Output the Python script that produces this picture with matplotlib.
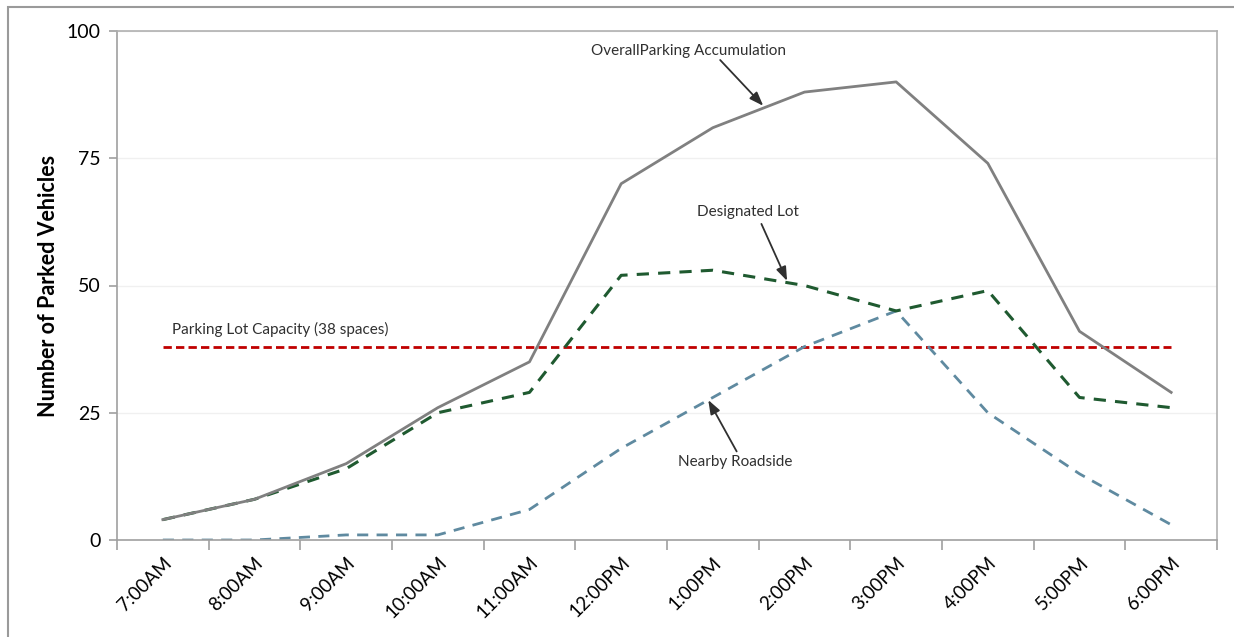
import matplotlib
matplotlib.use("Agg")
import matplotlib.pyplot as plt
import numpy as np
from matplotlib.patches import Rectangle

plt.rcParams['font.family'] = ['Lato', 'DejaVu Sans']

times = ['7:00AM', '8:00AM', '9:00AM', '10:00AM', '11:00AM', '12:00PM',
         '1:00PM', '2:00PM', '3:00PM', '4:00PM', '5:00PM', '6:00PM']
overall = [4, 8, 15, 26, 35, 70, 81, 88, 90, 74, 41, 29]
designated = [4, 8, 14, 25, 29, 52, 53, 50, 45, 49, 28, 26]
roadside = [0, 0, 1, 1, 6, 18, 28, 38, 45, 25, 13, 3]
capacity = 38
y_ticks = [0, 25, 50, 75, 100]

fig = plt.figure(figsize=(12.34, 6.37), dpi=100)
ax = fig.add_axes([117 / 1234, 97 / 637, 1100 / 1234, 509 / 637])

# outer chart frame (cropped at right and bottom)
fig.patches.append(Rectangle((8 / 1234, -0.1), 1.2, 0.1 + 630 / 637,
                             transform=fig.transFigure, fill=False,
                             edgecolor='#9a9a9a', linewidth=1.5))

x = np.arange(len(times))
ax.plot(x, [capacity] * len(times), color='#c00000', linestyle=(0, (3, 1.5)), linewidth=2)
ax.plot(x, roadside, color='#5f8aa0', linestyle=(0, (4, 3)), linewidth=2)
ax.plot(x, designated, color='#1f5a30', linestyle=(0, (4, 3)), linewidth=2.2)
ax.plot(x, overall, color='#808080', linewidth=2)

ax.set_xlim(-0.5, len(times) - 0.5)
ax.set_ylim(0, 100)
ax.set_yticks(y_ticks)
ax.yaxis.grid(True, color='#f0f0f0', linewidth=1)
ax.set_axisbelow(True)

ax.set_xticks(x)
ax.set_xticklabels(times, rotation=45, ha='right', rotation_mode='anchor', fontsize=13.5)
ax.set_xticks(np.arange(len(times) + 1) - 0.5, minor=True)
ax.tick_params(axis='x', which='major', length=0, pad=10)
ax.tick_params(axis='x', which='minor', length=7, color='#a0a0a0', width=1.2)
ax.tick_params(axis='y', length=6, color='#a0a0a0', width=1.2, labelsize=14, pad=6)

for side in ['left', 'bottom', 'top', 'right']:
    ax.spines[side].set_color('#b0b0b0')
    ax.spines[side].set_linewidth(1.2)
ax.spines['left'].set_color('#a0a0a0')
ax.spines['bottom'].set_color('#a0a0a0')

ax.set_ylabel('Number of Parked Vehicles', fontsize=15.5, fontweight='bold', labelpad=5)

arrow = dict(arrowstyle='-|>,head_length=0.6,head_width=0.22', color='#303030',
             lw=1.3, mutation_scale=14, shrinkA=0, shrinkB=0)
txt = dict(ha='center', va='center', fontsize=11, color='#303030')

ax.text(5.73, 96.1, 'OverallParking Accumulation', **txt)
ax.annotate('', xy=(6.55, 85.3), xytext=(6.08, 94.3), arrowprops=arrow)

ax.text(6.38, 64.4, 'Designated Lot', **txt)
ax.annotate('', xy=(6.81, 50.9), xytext=(6.53, 62.1), arrowprops=arrow)

ax.text(6.24, 15.3, 'Nearby Roadside', **txt)
ax.annotate('', xy=(5.95, 27.5), xytext=(6.26, 17.4), arrowprops=arrow)

ax.text(0.1, 41.3, 'Parking Lot Capacity (38 spaces)', fontsize=11,
        color='#303030', va='center', ha='left')

fig.savefig('out.png', dpi=100)
